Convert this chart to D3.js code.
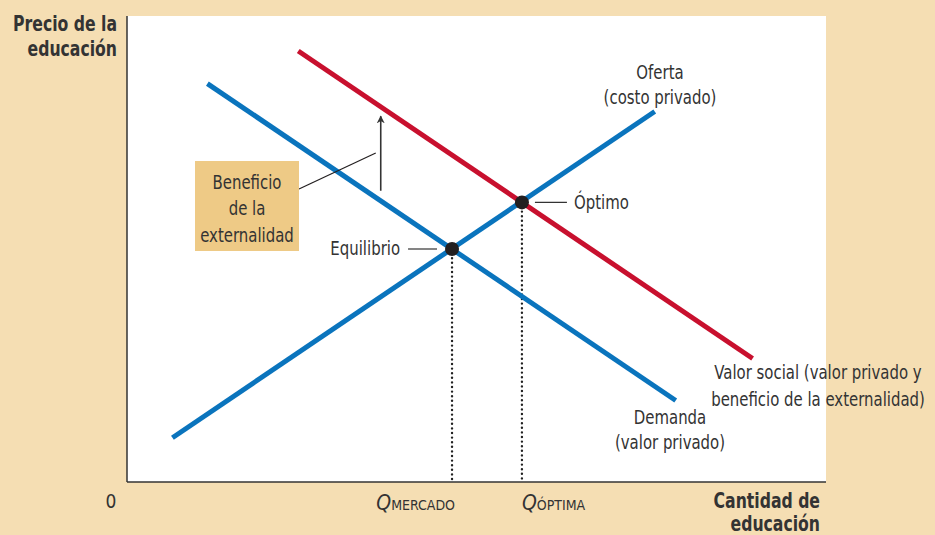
<!DOCTYPE html>
<html>
<head>
<meta charset="utf-8">
<script src="https://cdn.jsdelivr.net/npm/d3@7"></script>
<style>
  body { margin: 0; background: #f5deb3; }
  svg text { font-family: "Liberation Sans Narrow", "DejaVu Sans Condensed", sans-serif; fill: #333; }
  .bold { font-weight: bold; }
</style>
</head>
<body>
<div class="main"></div>
<script>
// curves as [cantidad, precio] end points (0-100 units)
const demanda = [[11.5, 85.5], [78.5, 17.5]];
const oferta = [[6.5, 9.5], [75.5, 79.5]];
const valorSocial = [[24.5, 92.5], [89.5, 26.5]];
const puntos = [
    { name: "Equilibrio", q: 46.5, p: 50 },
    { name: "Óptimo", q: 56.5, p: 60 }
];
const flecha = { q: 36.3, p0: 62.5, p1: 78.5 };

const width = 935, height = 535;
const mLeft = 127, mRight = 826, mTop = 16, mBottom = 482;
const squeeze = 0.83; // condensed look

const x = d3.scaleLinear().domain([0, 100]).range([mLeft, mRight]);
const y = d3.scaleLinear().domain([0, 100]).range([mBottom, mTop]);

const svg = d3.select(".main").append("svg")
    .attr("width", width)
    .attr("height", height);

svg.append("rect")
    .attr("width", width).attr("height", height)
    .attr("fill", "#f5deb3");

svg.append("rect")
    .attr("x", mLeft).attr("y", mTop)
    .attr("width", mRight - mLeft).attr("height", mBottom - mTop)
    .attr("fill", "#fff");

const defs = svg.append("defs");
defs.append("marker")
    .attr("id", "head")
    .attr("viewBox", "0 0 10 10")
    .attr("refX", 9).attr("refY", 5)
    .attr("markerWidth", 5).attr("markerHeight", 6)
    .attr("markerUnits", "strokeWidth")
    .attr("orient", "auto")
    .append("path")
    .attr("d", "M0,0 L10,5 L0,10 L3,5 Z")
    .attr("fill", "#333");

// dotted drop lines
svg.selectAll(".drop")
    .data(puntos)
    .enter().append("line")
    .attr("x1", d => x(d.q)).attr("x2", d => x(d.q))
    .attr("y1", d => y(d.p)).attr("y2", mBottom)
    .attr("stroke", "#222")
    .attr("stroke-width", 2.4)
    .attr("stroke-linecap", "round")
    .attr("stroke-dasharray", "0,4.6");

const line = d3.line().x(d => x(d[0])).y(d => y(d[1]));

[[valorSocial, "#c8102e"], [demanda, "#0a74bd"], [oferta, "#0a74bd"]].forEach(c => {
    svg.append("path")
        .attr("d", line(c[0]))
        .attr("stroke", c[1])
        .attr("stroke-width", 5)
        .attr("fill", "none");
});

// axes
svg.append("line")
    .attr("x1", mLeft).attr("x2", mLeft)
    .attr("y1", mTop).attr("y2", mBottom)
    .attr("stroke", "#333").attr("stroke-width", 1.5);
svg.append("line")
    .attr("x1", mLeft).attr("x2", mRight)
    .attr("y1", mBottom).attr("y2", mBottom)
    .attr("stroke", "#333").attr("stroke-width", 1.5);

// points
svg.selectAll(".pt")
    .data(puntos)
    .enter().append("circle")
    .attr("cx", d => x(d.q)).attr("cy", d => y(d.p))
    .attr("r", 7)
    .attr("fill", "#231f20");

const label = function (lines, px, py, anchor, gap, cls, size) {
    const t = svg.append("g")
        .attr("transform", `translate(${px},${py}) scale(${squeeze},1)`)
        .append("text")
        .attr("text-anchor", anchor)
        .attr("font-size", size || 20)
        .attr("class", cls || null);
    lines.forEach((s, i) => {
        t.append("tspan").attr("x", 0).attr("y", i * gap).text(s);
    });
    return t;
};

// point labels with leader lines
const eq = puntos[0], op = puntos[1];
svg.append("line")
    .attr("x1", x(eq.q) - 44).attr("x2", x(eq.q) - 15)
    .attr("y1", y(eq.p)).attr("y2", y(eq.p))
    .attr("stroke", "#333").attr("stroke-width", 1.2);
label([eq.name], x(eq.q) - 52, y(eq.p) + 6, "end", 0);

svg.append("line")
    .attr("x1", x(op.q) + 13).attr("x2", x(op.q) + 45)
    .attr("y1", y(op.p)).attr("y2", y(op.p))
    .attr("stroke", "#333").attr("stroke-width", 1.2);
label([op.name], x(op.q) + 52, y(op.p) + 7, "start", 0);

// externality arrow
svg.append("line")
    .attr("x1", x(flecha.q)).attr("x2", x(flecha.q))
    .attr("y1", y(flecha.p0)).attr("y2", y(flecha.p1))
    .attr("stroke", "#333").attr("stroke-width", 1.6)
    .attr("marker-end", "url(#head)");

svg.append("line")
    .attr("x1", 299).attr("y1", 189)
    .attr("x2", x(flecha.q) - 5).attr("y2", 153)
    .attr("stroke", "#231f20").attr("stroke-width", 1.2);

svg.append("rect")
    .attr("x", 195).attr("y", 161)
    .attr("width", 104).attr("height", 90)
    .attr("fill", "#eeca86");

label(["Beneficio", "de la", "externalidad"], 247, 189, "middle", 26.5);
label(["Oferta", "(costo privado)"], 660, 79, "middle", 25);
label(["Valor social (valor privado y", "beneficio de la externalidad)"], 818, 379, "middle", 27);
label(["Demanda", "(valor privado)"], 670, 424, "middle", 25);

label(["Precio de la", "educación"], 117, 31, "end", 25, "bold", 21);
label(["Cantidad de", "educación"], 820, 508, "end", 23, "bold", 21);

svg.append("text")
    .attr("x", 111).attr("y", 508)
    .attr("text-anchor", "middle")
    .attr("font-size", 19)
    .text("0");

const qLabel = function (sub, px, anchor) {
    const t = svg.append("text")
        .attr("x", px).attr("y", 510)
        .attr("text-anchor", anchor)
        .attr("font-size", 21);
    t.append("tspan").attr("font-style", "italic").text("Q");
    t.append("tspan").attr("font-size", 14).text(sub);
};
qLabel("MERCADO", x(eq.q) + 3, "end");
qLabel("ÓPTIMA", x(op.q), "start");
</script>
</body>
</html>
